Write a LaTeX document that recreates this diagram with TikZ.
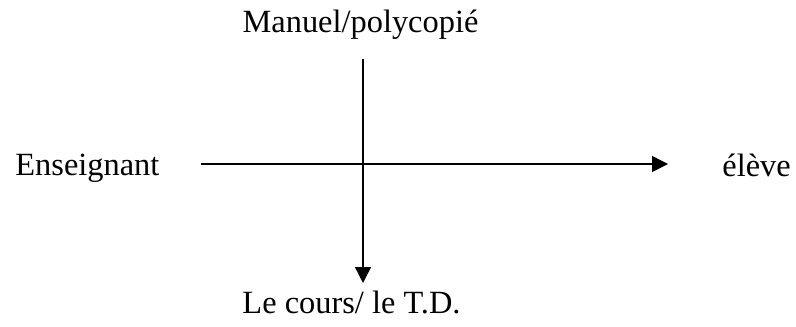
\documentclass[tikz,border=0pt]{standalone}
\usepackage{fontspec}
\setmainfont{Liberation Serif}
\usepackage{xcolor}
\usepackage{tikz}
\usetikzlibrary{arrows.meta,positioning,calc}
\tikzstyle{axisarrow} = [-{Triangle[length=8pt,width=8pt]}, line width=0.7pt, black]
\tikzstyle{label} = [anchor=base, inner sep=0pt, font=\fontsize{16.2}{19}\selectfont]

\begin{document}
\begin{tikzpicture}[x=0.5pt, y=-0.5pt]
\useasboundingbox (0,0) rectangle (796,326);
% texts
\node[label] (manuel) at (360.5,33) {Manuel/polycopié};
\node[label, anchor=base west] (ens) at (15,175) {Enseignant};
\node[label, anchor=base west] (eleve) at (722,176) {élève};
\node[label] (cours) at (351.5,313) {Le cours/ le T.D.};
% axes
\coordinate (vtop) at (363,59);
\coordinate (vbot) at (363,283);
\coordinate (hleft) at (201,164);
\coordinate (hright) at (668,164);
\draw[axisarrow] (vtop) -- (vbot);
\draw[axisarrow] (hleft) -- (hright);
\end{tikzpicture}
\end{document}
